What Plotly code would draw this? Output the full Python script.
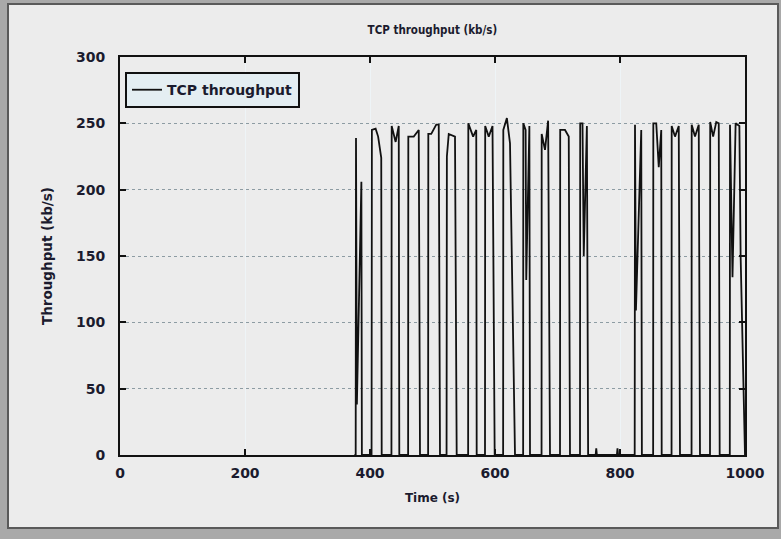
import plotly.graph_objects as go

# ---- data ----
time_s = [
    375, 377.1, 377.6, 379, 386.2, 387,
    402.5, 403, 409, 413, 418, 418.7,
    434.3, 434.7, 441, 446, 446.9,
    461, 461.3, 470, 478, 480,
    493, 493.3, 498, 506, 510, 512,
    522.5, 523, 526, 536, 538.7,
    557, 557.3, 565, 570, 570.7,
    584, 584.3, 590, 596, 599.5,
    613, 613.3, 619, 624, 632,
    645, 645.3, 649, 650, 655, 656,
    674.5, 674.7, 680, 685, 688,
    704, 704.3, 712, 718, 720,
    736, 736.3, 740, 742, 747, 749,
    761, 762, 763, 795, 796, 797,
    823.5, 824, 825.5, 834, 835,
    853, 853.3, 858, 862, 866, 866.7,
    882.5, 882.7, 888, 894, 896,
    914.5, 914.7, 920, 926, 928,
    944, 944.3, 949, 954, 958, 959.5,
    975.7, 976, 980, 985, 991, 993, 1000,
]
throughput_kbps = [
    0, 0, 239, 38, 206, 0,
    0, 245, 246, 240, 224, 0,
    0, 248, 236, 248, 0,
    0, 240, 240, 245, 0,
    0, 242, 242, 249, 249, 0,
    0, 225, 242, 240, 0,
    0, 250, 240, 245, 0,
    0, 248, 240, 248, 0,
    0, 245, 254, 235, 0,
    0, 250, 245, 132, 248, 0,
    0, 242, 230, 252, 0,
    0, 245, 245, 240, 0,
    0, 250, 250, 150, 248, 0,
    0, 5, 0, 0, 5, 0,
    0, 249, 109, 245, 0,
    0, 250, 250, 217, 245, 0,
    0, 248, 240, 248, 0,
    0, 249, 240, 249, 0,
    0, 251, 240, 251, 250, 0,
    0, 249, 134, 250, 248, 150, 0,
]
x_ticks = [0, 200, 400, 600, 800, 1000]
y_ticks = [0, 50, 100, 150, 200, 250, 300]

WIDE = "DejaVu Sans, Verdana, sans-serif"
NARROW = "DejaVu Sans Condensed, Liberation Sans Narrow, Arial Narrow, sans-serif"
TXT = "#1b1b2e"

fig = go.Figure()
fig.add_trace(go.Scatter(
    x=time_s, y=throughput_kbps, mode="lines", name="TCP throughput",
    line=dict(color="#111111", width=1.8),
))

# window-like outer frame
fig.add_shape(type="rect", xref="paper", yref="paper",
              x0=-0.1792, x1=1.0528, y0=-0.1834, y1=1.1332,
              line=dict(color="#5a5a5a", width=2), fillcolor="#ececec",
              layer="below")

axis_common = dict(
    showline=True, linecolor="#111111", linewidth=2, mirror="ticks",
    ticks="inside", ticklen=6, tickwidth=1.5, tickcolor="#111111",
    showgrid=True, zeroline=False,
    tickfont=dict(family=WIDE, size=14, color=TXT, weight="bold"),
)

fig.update_layout(
    width=781, height=539,
    margin=dict(l=120, r=36, t=57, b=84),
    paper_bgcolor="#a9a9a9",
    plot_bgcolor="#d7e4e9",
    title=dict(text="TCP throughput (kb/s)", x=0.5536, xanchor="center",
               y=0.944, yanchor="middle",
               font=dict(family=NARROW, size=11.5, color=TXT, weight="bold")),
    xaxis=dict(range=[0, 1000], tickvals=x_ticks, ticktext=[str(v) for v in x_ticks],
               gridcolor="#eef4f7", gridwidth=1, griddash="solid",
               ticklabelstandoff=4,
               title=dict(text="Time (s)", standoff=14,
                          font=dict(family=WIDE, size=12, color=TXT, weight="bold")),
               **axis_common),
    yaxis=dict(range=[0, 300], tickvals=y_ticks, ticktext=[str(v) for v in y_ticks],
               gridcolor="#8d9ca3", gridwidth=1, griddash="dot",
               ticklabelstandoff=10,
               title=dict(text="Throughput (kb/s)", standoff=20,
                          font=dict(family=WIDE, size=13.5, color=TXT, weight="bold")),
               **axis_common),
    legend=dict(x=0.008, y=0.962, xanchor="left", yanchor="top",
                bgcolor="#e4eef2", bordercolor="#111111", borderwidth=2,
                font=dict(family=WIDE, size=14, color=TXT, weight="bold"),
                itemwidth=30, tracegroupgap=0),
    showlegend=True,
)

fig.write_html("out.html")
